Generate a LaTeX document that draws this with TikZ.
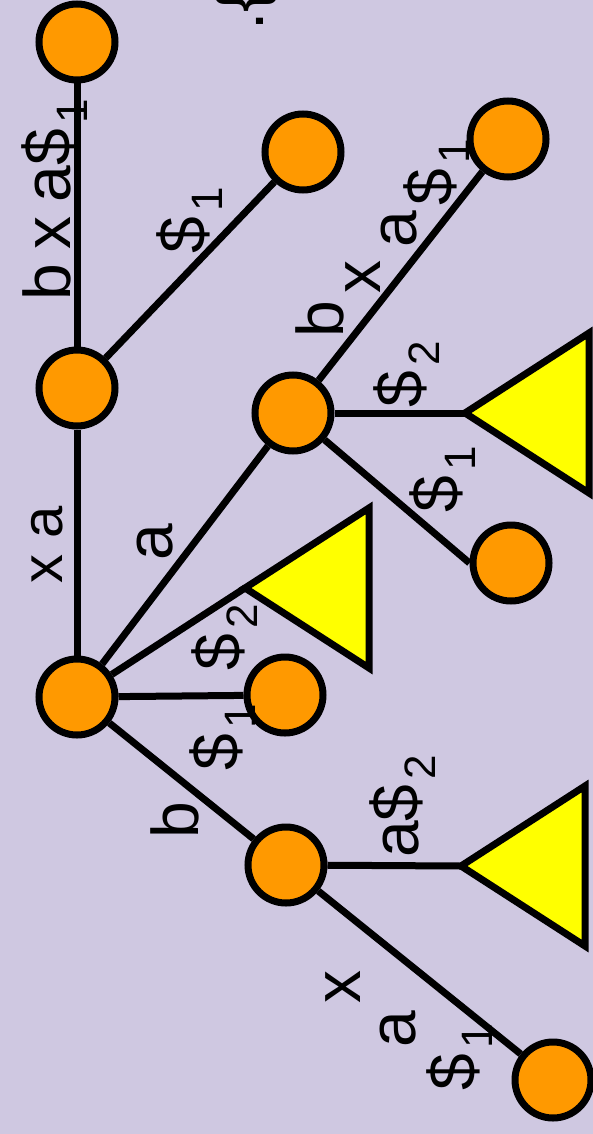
\documentclass[tikz,border=0pt]{standalone}
\usepackage{fontspec}
\setmainfont{Liberation Sans}
\usepackage{tikz}
\usetikzlibrary{arrows, arrows.meta}
\definecolor{lavender}{RGB}{207,200,225}
\definecolor{nodeorange}{RGB}{255,153,0}
\definecolor{treeyellow}{RGB}{255,255,0}
\newcommand{\dsub}[1]{\kern.08em\raisebox{-.27em}{\fontsize{44}{44}\selectfont #1}}
\tikzset{vertex/.style = {shape = circle, draw, line width = 7pt, fill = nodeorange, minimum size = 76pt, inner sep = 0pt}}
\tikzset{branch/.style = {-, line width = 7pt}}
\tikzset{subtree/.style = {draw, line width = 7pt, fill = treeyellow}}
\tikzset{lbl/.style = {rotate = 90, anchor = base west, inner sep = 0pt, font = \fontsize{66}{66}\selectfont}}

\begin{document}
\begin{tikzpicture}[x = 1pt, y = -1pt]
	\useasboundingbox (0, 0) rectangle (593, 1134);
	\clip (0, 0) rectangle (593, 1134);
	\fill[lavender] (0, 0) rectangle (593, 1134);

	\node[vertex] (root) at (77, 697) {};
	\node[vertex] (xa) at (77, 388) {};
	\node[vertex] (l1) at (77, 42) {};
	\node[vertex] (l2) at (303, 152) {};
	\node[vertex] (a) at (293, 413) {};
	\node[vertex] (l3) at (508, 139) {};
	\node[vertex] (l4) at (511, 563) {};
	\node[vertex] (l5) at (285, 695) {};
	\node[vertex] (b) at (286, 865) {};
	\node[vertex] (l6) at (553, 1080) {};

	\coordinate (t1) at (465, 413);
	\coordinate (t2) at (245, 588);
	\coordinate (t3) at (461, 866);

	\draw[subtree] (t1) -- ++(124, -80) -- ++(0, 160) -- cycle;
	\draw[subtree] (t2) -- ++(124, -80) -- ++(0, 160) -- cycle;
	\draw[subtree] (t3) -- ++(124, -80) -- ++(0, 160) -- cycle;

	\draw[branch] (root) to (xa);
	\draw[branch] (xa) to (l1);
	\draw[branch] (xa) to (l2);
	\draw[branch] (root) to (a);
	\draw[branch] (a) to (l3);
	\draw[branch] (a) to (t1);
	\draw[branch] (a) to (l4.west);
	\draw[branch] (root) to (t2);
	\draw[branch] (root) to (l5);
	\draw[branch] (root) to (b);
	\draw[branch] (b) to (t3);
	\draw[branch] (b) to (l6);

	\node[lbl, font = \fontsize{58}{58}\selectfont] (e1) at (62, 584) {x a};
	\node[lbl] (e2) at (70, 301) {b\kern.22em x\kern.22em a\$\dsub{1}};
	\node[lbl] (e3) at (205, 254) {\$\dsub{1}};
	\node[lbl] (e4) at (172, 561) {a};
	\node[lbl] (e5a) at (343, 338) {b};
	\node[lbl] (e5b) at (380, 294) {x};
	\node[lbl] (e5c) at (416, 248) {a};
	\node[lbl] (e5d) at (452, 206) {\$\dsub{1}};
	\node[lbl] (e6) at (422, 408) {\$\dsub{2}};
	\node[lbl] (e7) at (458, 513) {\$\dsub{1}};
	\node[lbl] (e8) at (240, 671) {\$\dsub{2}};
	\node[lbl] (e9) at (238, 771) {\$\dsub{1}};
	\node[lbl] (e10) at (198, 839) {b};
	\node[lbl] (e11) at (418, 858) {a\$\dsub{2}};
	\node[lbl] (e12a) at (360, 1004) {x};
	\node[lbl] (e12b) at (415, 1048) {a};
	\node[lbl] (e12c) at (475, 1091) {\$\dsub{1}};
	\node[lbl] (cut) at (263, 31) {.\{};
\end{tikzpicture}
\end{document}
